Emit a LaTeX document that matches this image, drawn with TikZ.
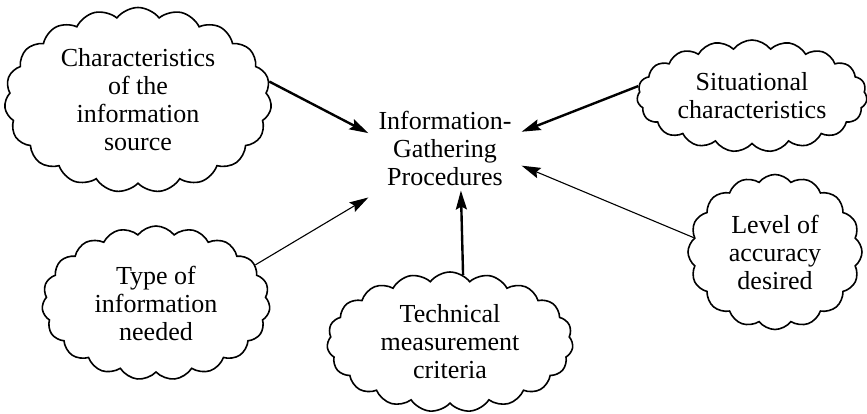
\documentclass[tikz,border=0pt]{standalone}
\usepackage{fontspec}
\setmainfont{Liberation Serif}
\usetikzlibrary{shapes,arrows.meta}

\begin{document}
\begin{tikzpicture}[x=1pt,y=1pt,
  bubble/.style={shape=cloud,cloud ignores aspect,cloud puffs=19,cloud puff arc=105,draw=black,line width=1.6pt,align=center,inner sep=0pt},
  link/.style={-{Stealth[length=19pt,width=11pt,inset=3pt]},draw=black}]
\useasboundingbox (0,0) rectangle (867,413);
\tikzset{every node/.append style={font=\fontsize{26pt}{28pt}\selectfont}}
\node[align=center,inner xsep=10pt,inner ysep=12pt] (0) at (445,265) {Information-\\Gathering\\Procedures};
\node[bubble,minimum width=267,minimum height=185] (1) at (138,313) {Characteristics\\of the\\information\\source};
\node[bubble,minimum width=230,minimum height=112] (2) at (752,317) {Situational\\characteristics};
\node[bubble,minimum width=228,minimum height=154] (3) at (156,110) {Type of\\information\\needed};
\node[bubble,minimum width=246,minimum height=140] (4) at (450,71) {Technical\\measurement\\criteria};
\node[bubble,cloud puffs=16,minimum width=174,minimum height=155] (5) at (775,161) {Level of\\accuracy\\desired};

\path (1.8) edge[link,line width=2.4pt] node {} (0.169);
\path (2.175) edge[link,line width=2.4pt] node {} (0.12);
\path (3.21) edge[link,line width=1.1pt] node {} (0.south west);
\path (4.79) edge[link,line width=2.4pt,shorten >=-7pt] node {} (0.288);
\path (5.170) edge[link,line width=1.1pt] node {} (0.347);
\end{tikzpicture}
\end{document}
